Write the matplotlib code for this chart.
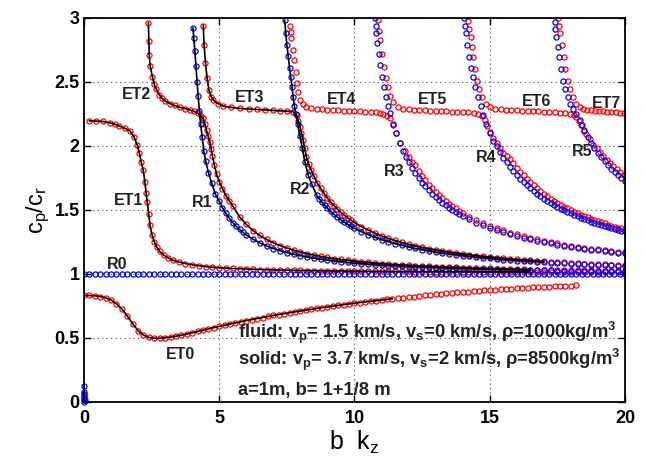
import numpy as np
import matplotlib
matplotlib.use('Agg')
import matplotlib.pyplot as plt

plt.rcParams['font.family'] = ['Liberation Sans', 'DejaVu Sans']
plt.rcParams['mathtext.fontset'] = 'custom'
plt.rcParams['mathtext.rm'] = 'Liberation Sans'
plt.rcParams['mathtext.bf'] = 'Liberation Sans:bold'
plt.rcParams['mathtext.it'] = 'Liberation Sans:italic'

# ---- dispersion curves, (b kz, cp/cr) pairs ----
# red = model 1, blue = model 2, black line = coupled model (over part of them)
et0 = [(0, 0.83), (0.2, 0.83), (0.4, 0.828), (0.6, 0.822), (0.8, 0.812), (1.0, 0.795), (1.2, 0.765),
       (1.4, 0.725), (1.6, 0.67), (1.8, 0.61), (2.0, 0.555), (2.2, 0.52), (2.4, 0.502), (2.6, 0.496),
       (2.8, 0.496), (3.0, 0.5), (3.2, 0.505), (3.4, 0.512), (3.6, 0.52), (3.8, 0.529), (4.0, 0.539),
       (4.2, 0.549), (4.4, 0.559), (4.6, 0.569), (4.8, 0.579), (5.0, 0.589), (5.2, 0.598), (5.4, 0.607),
       (5.6, 0.616), (5.8, 0.625), (6.0, 0.634), (6.2, 0.642), (6.4, 0.65), (6.6, 0.658), (6.8, 0.666),
       (7.0, 0.674), (7.2, 0.681), (7.4, 0.688), (7.6, 0.695), (7.8, 0.702), (8.0, 0.709), (8.2, 0.716),
       (8.4, 0.722), (8.6, 0.729), (8.8, 0.735), (9.0, 0.741), (9.2, 0.747), (9.4, 0.753), (9.6, 0.759),
       (9.8, 0.764), (10.0, 0.77), (10.2, 0.775), (10.4, 0.78), (10.6, 0.785), (10.8, 0.79), (11.0, 0.795),
       (11.2, 0.8), (11.4, 0.805), (11.6, 0.809), (11.8, 0.814), (12.0, 0.818), (12.2, 0.822),
       (12.4, 0.827), (12.6, 0.831), (12.8, 0.835), (13.0, 0.839), (13.2, 0.843), (13.4, 0.847),
       (13.6, 0.85), (13.8, 0.854), (14.0, 0.857), (14.2, 0.861), (14.4, 0.864), (14.6, 0.867),
       (14.8, 0.87), (15.0, 0.873), (15.2, 0.876), (15.4, 0.879), (15.6, 0.882), (15.8, 0.884),
       (16.0, 0.887), (16.2, 0.889), (16.4, 0.892), (16.6, 0.894), (16.8, 0.896), (17.0, 0.898),
       (17.2, 0.9), (17.4, 0.902), (17.6, 0.904), (17.8, 0.906), (18.0, 0.908), (18.2, 0.91)]

et1 = [(0.2, 2.195), (0.45, 2.193), (0.7, 2.19), (0.95, 2.18), (1.15, 2.168), (1.3, 2.155), (1.5, 2.138),
       (1.7, 2.117), (1.85, 2.07), (1.97, 2.005), (2.05, 1.94), (2.12, 1.87), (2.19, 1.81), (2.25, 1.72),
       (2.3, 1.63), (2.34, 1.56), (2.39, 1.47), (2.44, 1.38), (2.52, 1.3), (2.6, 1.25), (2.69, 1.21),
       (2.8, 1.175), (2.95, 1.145), (3.1, 1.125), (3.3, 1.105), (3.5, 1.092), (3.75, 1.08), (4.0, 1.07),
       (4.25, 1.063), (4.5, 1.056), (4.75, 1.051), (5.0, 1.047), (5.25, 1.044), (5.5, 1.041),
       (5.75, 1.039), (6.0, 1.037), (6.25, 1.035), (6.5, 1.033), (6.75, 1.032), (7.0, 1.03),
       (7.25, 1.029), (7.5, 1.028), (7.75, 1.027), (8.0, 1.026), (8.25, 1.025), (8.5, 1.024),
       (8.75, 1.023), (9.0, 1.023), (9.25, 1.022), (9.5, 1.022), (9.75, 1.021), (10.0, 1.021),
       (10.25, 1.02), (10.5, 1.02), (10.75, 1.019), (11.0, 1.019), (11.25, 1.019), (11.5, 1.018),
       (11.75, 1.018), (12.0, 1.018), (12.25, 1.017), (12.5, 1.017), (12.75, 1.017), (13.0, 1.017),
       (13.25, 1.016), (13.5, 1.016), (13.75, 1.016), (14.0, 1.016), (14.25, 1.016), (14.5, 1.015),
       (14.75, 1.015), (15.0, 1.015), (15.25, 1.015), (15.5, 1.015), (15.75, 1.014), (16.0, 1.014),
       (16.25, 1.014), (16.5, 1.014), (16.75, 1.014), (17.0, 1.014), (17.25, 1.013), (17.5, 1.013),
       (17.75, 1.013), (18.0, 1.013), (18.25, 1.013), (18.5, 1.013), (18.75, 1.013), (19.0, 1.012),
       (19.25, 1.012), (19.5, 1.012), (19.75, 1.012), (20.0, 1.012)]

# ET2 branch continuing into the red R1 branch
et2_r1 = [(2.38, 2.96), (2.4, 2.82), (2.41, 2.71), (2.45, 2.62), (2.53, 2.54), (2.6, 2.48), (2.68, 2.44),
          (2.78, 2.4), (2.87, 2.375), (3.0, 2.35), (3.18, 2.33), (3.35, 2.315), (3.55, 2.3),
          (3.75, 2.29), (3.92, 2.279), (4.08, 2.268), (4.22, 2.253), (4.33, 2.235), (4.41, 2.214),
          (4.47, 2.17), (4.53, 2.12), (4.59, 2.075), (4.65, 2.03), (4.7, 1.975), (4.75, 1.92),
          (4.82, 1.85), (4.9, 1.78), (5.0, 1.72), (5.12, 1.665), (5.25, 1.61), (5.37, 1.57), (5.5, 1.53),
          (5.75, 1.445), (6.0, 1.385), (6.25, 1.337), (6.5, 1.299), (6.75, 1.268), (7.0, 1.242),
          (7.25, 1.22), (7.5, 1.201), (7.75, 1.184), (8.0, 1.17), (8.25, 1.157), (8.5, 1.146),
          (8.75, 1.136), (9.0, 1.127), (9.25, 1.119), (9.5, 1.112), (9.75, 1.105), (10.0, 1.099),
          (10.25, 1.094), (10.5, 1.089), (10.75, 1.084), (11.0, 1.08), (11.25, 1.076), (11.5, 1.072),
          (11.75, 1.069), (12.0, 1.066), (12.25, 1.063), (12.5, 1.06), (12.75, 1.058), (13.0, 1.055),
          (13.25, 1.053), (13.5, 1.051), (13.75, 1.049), (14.0, 1.047), (14.25, 1.045), (14.5, 1.044),
          (14.75, 1.042), (15.0, 1.041), (15.25, 1.039), (15.5, 1.038), (15.75, 1.037), (16.0, 1.035),
          (16.25, 1.034), (16.5, 1.033), (16.75, 1.032), (17.0, 1.031), (17.25, 1.03), (17.5, 1.029),
          (17.75, 1.029), (18.0, 1.028), (18.25, 1.027), (18.5, 1.026), (18.75, 1.026), (19.0, 1.025),
          (19.25, 1.024), (19.5, 1.023), (19.75, 1.023), (20.0, 1.022)]

et3_r2 = [(4.41, 2.94), (4.44, 2.79), (4.49, 2.65), (4.55, 2.53), (4.62, 2.435), (4.7, 2.385),
          (4.78, 2.357), (4.95, 2.33), (5.15, 2.31), (5.45, 2.3), (5.76, 2.292), (6.1, 2.287),
          (6.4, 2.284), (6.7, 2.28), (7.0, 2.276), (7.25, 2.273), (7.5, 2.27), (7.73, 2.266),
          (7.86, 2.24), (7.93, 2.19), (7.98, 2.15), (8.04, 2.1), (8.1, 2.045), (8.16, 1.98),
          (8.22, 1.914), (8.3, 1.86), (8.4, 1.81), (8.5, 1.763), (8.62, 1.71), (8.75, 1.667),
          (8.87, 1.63), (9.0, 1.591), (9.12, 1.56), (9.25, 1.53), (9.37, 1.505), (9.5, 1.479),
          (9.62, 1.458), (9.75, 1.437), (9.87, 1.418), (10.0, 1.4), (10.25, 1.369), (10.5, 1.342),
          (10.75, 1.318), (11.0, 1.296), (11.25, 1.277), (11.5, 1.26), (11.75, 1.245), (12.0, 1.231),
          (12.25, 1.218), (12.5, 1.207), (12.75, 1.196), (13.0, 1.187), (13.25, 1.178), (13.5, 1.17),
          (13.75, 1.162), (14.0, 1.155), (14.25, 1.148), (14.5, 1.142), (14.75, 1.136), (15.0, 1.131),
          (15.25, 1.126), (15.5, 1.121), (15.75, 1.116), (16.0, 1.112), (16.25, 1.108), (16.5, 1.104),
          (16.75, 1.101), (17.0, 1.097), (17.25, 1.094), (17.5, 1.091), (17.75, 1.088), (18.0, 1.085),
          (18.25, 1.083), (18.5, 1.08), (18.75, 1.078), (19.0, 1.076), (19.25, 1.074), (19.5, 1.071),
          (19.75, 1.07), (20.0, 1.068)]

et4_r3 = [(7.61, 2.94), (7.64, 2.89), (7.67, 2.84), (7.72, 2.75), (7.77, 2.67), (7.82, 2.58),
          (7.86, 2.49), (7.91, 2.42), (7.98, 2.357), (8.08, 2.325), (8.22, 2.3), (8.4, 2.292),
          (8.6, 2.287), (8.8, 2.284), (9.0, 2.281), (9.2, 2.279), (9.4, 2.277), (9.6, 2.275),
          (9.8, 2.273), (10.0, 2.271), (10.2, 2.269), (10.4, 2.267), (10.6, 2.264), (10.8, 2.261),
          (10.95, 2.257), (11.06, 2.25), (11.2, 2.235), (11.3, 2.214), (11.42, 2.16), (11.55, 2.1),
          (11.7, 2.02), (11.85, 1.96), (12.0, 1.91), (12.12, 1.875), (12.25, 1.847), (12.37, 1.805),
          (12.5, 1.765), (12.62, 1.73), (12.75, 1.697), (12.87, 1.667), (13.0, 1.639), (13.12, 1.614),
          (13.25, 1.59), (13.37, 1.568), (13.5, 1.547), (13.62, 1.528), (13.75, 1.51), (13.87, 1.493),
          (14.0, 1.476), (14.25, 1.447), (14.5, 1.421), (14.75, 1.397), (15.0, 1.376), (15.25, 1.356),
          (15.5, 1.338), (15.75, 1.322), (16.0, 1.307), (16.25, 1.293), (16.5, 1.28), (16.75, 1.268),
          (17.0, 1.257), (17.25, 1.247), (17.5, 1.237), (17.75, 1.228), (18.0, 1.219), (18.25, 1.211),
          (18.5, 1.204), (18.75, 1.197), (19.0, 1.19), (19.25, 1.184), (19.5, 1.178), (19.75, 1.172),
          (20.0, 1.167)]

et5_r4 = [(10.87, 2.98), (10.91, 2.9), (10.96, 2.826), (11.02, 2.72), (11.08, 2.617), (11.16, 2.53),
          (11.24, 2.46), (11.33, 2.39), (11.43, 2.344), (11.6, 2.305), (11.8, 2.29), (12.0, 2.284),
          (12.2, 2.28), (12.4, 2.278), (12.6, 2.276), (12.8, 2.274), (13.0, 2.272), (13.2, 2.27),
          (13.4, 2.269), (13.6, 2.267), (13.8, 2.265), (14.0, 2.263), (14.2, 2.261), (14.4, 2.257),
          (14.57, 2.25), (14.7, 2.235), (14.81, 2.2), (14.9, 2.155), (15.0, 2.11), (15.12, 2.06),
          (15.25, 2.02), (15.37, 1.98), (15.5, 1.945), (15.62, 1.92), (15.75, 1.895), (15.87, 1.862),
          (16.0, 1.83), (16.12, 1.798), (16.25, 1.768), (16.37, 1.74), (16.5, 1.714), (16.62, 1.69),
          (16.75, 1.667), (16.87, 1.645), (17.0, 1.625), (17.12, 1.606), (17.25, 1.588), (17.37, 1.571),
          (17.5, 1.555), (17.62, 1.54), (17.75, 1.525), (17.87, 1.511), (18.0, 1.498), (18.12, 1.485),
          (18.25, 1.473), (18.37, 1.461), (18.5, 1.45), (18.62, 1.44), (18.75, 1.43), (18.87, 1.42),
          (19.0, 1.411), (19.12, 1.402), (19.25, 1.393), (19.37, 1.384), (19.5, 1.376), (19.62, 1.368),
          (19.75, 1.361), (19.87, 1.354), (20.0, 1.347)]

et6_r5 = [(14.2, 2.977), (14.25, 2.91), (14.29, 2.85), (14.34, 2.77), (14.38, 2.695), (14.46, 2.6),
          (14.53, 2.51), (14.62, 2.44), (14.72, 2.38), (14.85, 2.33), (15.0, 2.305), (15.2, 2.29),
          (15.4, 2.284), (15.6, 2.28), (15.8, 2.278), (16.0, 2.276), (16.2, 2.274), (16.4, 2.272),
          (16.6, 2.27), (16.8, 2.269), (17.0, 2.267), (17.2, 2.265), (17.4, 2.263), (17.6, 2.26),
          (17.8, 2.255), (17.95, 2.248), (18.1, 2.238), (18.2, 2.227), (18.3, 2.19), (18.38, 2.16),
          (18.48, 2.12), (18.57, 2.09), (18.7, 2.05), (18.82, 2.01), (18.95, 1.98), (19.07, 1.95),
          (19.2, 1.92), (19.32, 1.89), (19.45, 1.865), (19.57, 1.84), (19.7, 1.815), (19.82, 1.795),
          (19.95, 1.775), (20.0, 1.768)]

et7 = [(17.52, 2.995), (17.56, 2.94), (17.61, 2.88), (17.66, 2.79), (17.73, 2.695), (17.8, 2.6),
       (17.89, 2.51), (17.98, 2.44), (18.08, 2.38), (18.2, 2.33), (18.32, 2.3), (18.45, 2.288),
       (18.6, 2.282), (18.75, 2.278), (18.9, 2.275), (19.05, 2.272), (19.2, 2.27), (19.35, 2.267),
       (19.5, 2.264), (19.65, 2.261), (19.8, 2.258), (19.98, 2.255)]

r0_kz = [0.0, 0.2, 0.4, 0.6, 0.8, 1.0, 1.2, 1.4, 1.6, 1.8, 2.0, 2.2, 2.4, 2.6, 2.8, 3.0, 3.2, 3.4,
         3.6, 3.8, 4.0, 4.2, 4.4, 4.6, 4.8, 5.0, 5.2, 5.4, 5.6, 5.8, 6.0, 6.2, 6.4, 6.6, 6.8, 7.0,
         7.2, 7.4, 7.6, 7.8, 8.0, 8.2, 8.4, 8.6, 8.8, 9.0, 9.2, 9.4, 9.6, 9.8, 10.0, 10.2, 10.4,
         10.6, 10.8, 11.0, 11.2, 11.4, 11.6, 11.8, 12.0, 12.2, 12.4, 12.6, 12.8, 13.0, 13.2, 13.4,
         13.6, 13.8, 14.0, 14.2, 14.4, 14.6, 14.8, 15.0, 15.2, 15.4, 15.6, 15.8, 16.0, 16.2, 16.4,
         16.6, 16.8, 17.0, 17.2, 17.4, 17.6, 17.8, 18.0, 18.2, 18.4, 18.6, 18.8, 19.0, 19.2, 19.4,
         19.6, 19.8, 20.0]
r0_level = 1.0

r1 = [(4.03, 2.92), (4.06, 2.84), (4.1, 2.74), (4.14, 2.62), (4.18, 2.5), (4.22, 2.39), (4.27, 2.27),
      (4.31, 2.17), (4.37, 2.07), (4.43, 1.96), (4.5, 1.88), (4.6, 1.79), (4.72, 1.71), (4.86, 1.62),
      (5.0, 1.567), (5.12, 1.515), (5.25, 1.471), (5.37, 1.434), (5.5, 1.4), (5.62, 1.372),
      (5.75, 1.346), (5.87, 1.324), (6.0, 1.304), (6.25, 1.27), (6.5, 1.241), (6.75, 1.217),
      (7.0, 1.197), (7.25, 1.18), (7.5, 1.165), (7.75, 1.152), (8.0, 1.141), (8.25, 1.131),
      (8.5, 1.122), (8.75, 1.114), (9.0, 1.106), (9.25, 1.1), (9.5, 1.094), (9.75, 1.088), (10.0, 1.084),
      (10.25, 1.079), (10.5, 1.075), (10.75, 1.071), (11.0, 1.068), (11.25, 1.064), (11.5, 1.061),
      (11.75, 1.058), (12.0, 1.056), (12.25, 1.053), (12.5, 1.051), (12.75, 1.049), (13.0, 1.047),
      (13.25, 1.045), (13.5, 1.043), (13.75, 1.042), (14.0, 1.04), (14.25, 1.039), (14.5, 1.037),
      (14.75, 1.036), (15.0, 1.035), (15.25, 1.034), (15.5, 1.032), (15.75, 1.031), (16.0, 1.03),
      (16.25, 1.029), (16.5, 1.028), (16.75, 1.027), (17.0, 1.027), (17.25, 1.026), (17.5, 1.025),
      (17.75, 1.024), (18.0, 1.024), (18.25, 1.023), (18.5, 1.022), (18.75, 1.022), (19.0, 1.021),
      (19.25, 1.021), (19.5, 1.02), (19.75, 1.02), (20.0, 1.019)]

r2 = [(7.42, 2.98), (7.46, 2.88), (7.5, 2.79), (7.55, 2.7), (7.6, 2.61), (7.64, 2.54), (7.69, 2.46),
      (7.73, 2.38), (7.78, 2.31), (7.83, 2.25), (7.9, 2.17), (7.98, 2.08), (8.07, 1.98), (8.17, 1.87),
      (8.29, 1.77), (8.42, 1.7), (8.6, 1.614), (8.7, 1.585), (8.8, 1.559), (8.9, 1.535), (9.0, 1.512),
      (9.12, 1.487), (9.25, 1.463), (9.37, 1.442), (9.5, 1.421), (9.62, 1.403), (9.75, 1.386),
      (9.87, 1.37), (10.0, 1.355), (10.25, 1.329), (10.5, 1.306), (10.75, 1.285), (11.0, 1.266),
      (11.25, 1.25), (11.5, 1.235), (11.75, 1.222), (12.0, 1.209), (12.25, 1.198), (12.5, 1.188),
      (12.75, 1.179), (13.0, 1.17), (13.25, 1.162), (13.5, 1.155), (13.75, 1.148), (14.0, 1.141),
      (14.25, 1.135), (14.5, 1.13), (14.75, 1.125), (15.0, 1.12), (15.25, 1.115), (15.5, 1.111),
      (15.75, 1.107), (16.0, 1.103), (16.25, 1.1), (16.5, 1.096), (16.75, 1.093), (17.0, 1.09),
      (17.25, 1.087), (17.5, 1.084), (17.75, 1.081), (18.0, 1.079), (18.25, 1.077), (18.5, 1.074),
      (18.75, 1.072), (19.0, 1.07), (19.25, 1.068), (19.5, 1.066), (19.75, 1.064), (20.0, 1.062)]

r3 = [(10.75, 2.995), (10.78, 2.94), (10.81, 2.88), (10.85, 2.8), (10.9, 2.72), (10.96, 2.63),
      (11.03, 2.54), (11.1, 2.46), (11.18, 2.38), (11.25, 2.31), (11.33, 2.253), (11.43, 2.17),
      (11.55, 2.1), (11.67, 2.02), (11.8, 1.961), (11.9, 1.916), (12.0, 1.874), (12.12, 1.83),
      (12.25, 1.786), (12.37, 1.748), (12.5, 1.713), (12.62, 1.682), (12.75, 1.652), (12.87, 1.625),
      (13.0, 1.6), (13.12, 1.578), (13.25, 1.556), (13.37, 1.536), (13.5, 1.517), (13.62, 1.499),
      (13.75, 1.482), (13.87, 1.467), (14.0, 1.452), (14.25, 1.425), (14.5, 1.4), (14.75, 1.378),
      (15.0, 1.358), (15.25, 1.34), (15.5, 1.323), (15.75, 1.308), (16.0, 1.294), (16.25, 1.28),
      (16.5, 1.268), (16.75, 1.257), (17.0, 1.247), (17.25, 1.237), (17.5, 1.228), (17.75, 1.219),
      (18.0, 1.211), (18.25, 1.203), (18.5, 1.196), (18.75, 1.189), (19.0, 1.183), (19.25, 1.177),
      (19.5, 1.171), (19.75, 1.166), (20.0, 1.161)]

r4 = [(14.04, 3.0), (14.07, 2.94), (14.11, 2.88), (14.17, 2.79), (14.23, 2.695), (14.3, 2.61),
      (14.38, 2.54), (14.47, 2.46), (14.57, 2.38), (14.66, 2.31), (14.75, 2.24), (14.87, 2.17),
      (15.0, 2.097), (15.12, 2.04), (15.25, 1.997), (15.37, 1.95), (15.5, 1.908), (15.62, 1.87),
      (15.75, 1.833), (15.87, 1.8), (16.0, 1.769), (16.12, 1.741), (16.25, 1.714), (16.37, 1.69),
      (16.5, 1.667), (16.62, 1.646), (16.75, 1.625), (16.87, 1.606), (17.0, 1.587), (17.12, 1.57),
      (17.25, 1.553), (17.37, 1.538), (17.5, 1.523), (17.62, 1.509), (17.75, 1.496), (17.87, 1.483),
      (18.0, 1.471), (18.12, 1.459), (18.25, 1.448), (18.37, 1.437), (18.5, 1.427), (18.62, 1.417),
      (18.75, 1.408), (18.87, 1.399), (19.0, 1.39), (19.12, 1.382), (19.25, 1.374), (19.37, 1.366),
      (19.5, 1.359), (19.62, 1.351), (19.75, 1.344), (19.87, 1.337), (20.0, 1.331)]

r5 = [(17.4, 2.97), (17.43, 2.91), (17.46, 2.85), (17.51, 2.77), (17.56, 2.695), (17.63, 2.6),
      (17.71, 2.51), (17.8, 2.44), (17.89, 2.38), (17.98, 2.33), (18.08, 2.29), (18.2, 2.245),
      (18.32, 2.2), (18.4, 2.16), (18.5, 2.114), (18.63, 2.065), (18.75, 2.023), (18.87, 1.985),
      (19.0, 1.946), (19.12, 1.912), (19.25, 1.88), (19.37, 1.85), (19.5, 1.822), (19.62, 1.796),
      (19.75, 1.771), (19.87, 1.748), (20.0, 1.726)]

origin_blob = [(0, 0.0), (0, 0.015), (0, 0.03), (0, 0.045), (0, 0.06), (0, 0.075), (0.02, 0.01),
               (0, 0.123)]

red_modes = [et0, et1, et2_r1, et3_r2, et4_r3, et5_r4, et6_r5, et7]
blue_modes = [r1, r2, r3, r4, r5]
# coupled-model black lines: which branch, and the kz where the line stops
black_modes = [(et0, 11.4), (et1, 16.7), (et2_r1, 16.7), (r1, 16.7), (et3_r2, 17.2), (r2, 17.2)]

labels = [('ET0', 3.55, 0.37), ('ET1', 1.64, 1.575), ('ET2', 1.94, 2.4), ('ET3', 6.13, 2.38),
          ('ET4', 9.52, 2.36), ('ET5', 12.9, 2.36), ('ET6', 16.72, 2.345), ('ET7', 19.31, 2.33),
          ('R0', 1.21, 1.076), ('R1', 4.38, 1.56), ('R2', 8.0, 1.655), ('R3', 11.45, 1.8),
          ('R4', 14.85, 1.91), ('R5', 18.42, 1.953)]

fig = plt.figure(figsize=(6.46, 4.57), dpi=100)
ax = fig.add_axes([0.130, 0.121, 0.8375, 0.840])

mk = dict(linestyle='none', marker='o', markersize=3.7, markerfacecolor='none', markeredgewidth=0.9)
for mode in red_modes:
    kz, c = zip(*mode)
    ax.plot(kz, c, color='#ff0000', **mk)
ax.plot(r0_kz, [r0_level] * len(r0_kz), color='#0000ff', **mk)
for mode in blue_modes:
    kz, c = zip(*mode)
    ax.plot(kz, c, color='#0000ff', **mk)
kz, c = zip(*origin_blob)
ax.plot(kz, c, color='#0000ff', clip_on=False, **mk)
for mode, xend in black_modes:
    kz, c = np.array(mode).T
    keep = kz <= xend
    ax.plot(kz[keep], c[keep], color='black', linewidth=1.2)

for txt, x, y in labels:
    ax.text(x, y, txt, fontsize=11.5, fontweight='bold', ha='center', va='center', color='#222222')

ax.text(5.69, 0.537, r'fluid: v$_\mathbf{p}$= 1.5 km/s, v$_\mathbf{s}$=0 km/s, ρ=1000kg/m$^\mathbf{3}$',
        fontsize=13.2, fontweight='bold', va='center', color='#222222')
ax.text(5.69, 0.326, r'solid: v$_\mathbf{p}$= 3.7 km/s, v$_\mathbf{s}$=2 km/s, ρ=8500kg/m$^\mathbf{3}$',
        fontsize=13.2, fontweight='bold', va='center', color='#222222')
ax.text(5.69, 0.09, 'a=1m, b= 1+1/8 m', fontsize=13.2, fontweight='bold', va='center', color='#222222')

ax.set_xlim(0, 20)
ax.set_ylim(0, 3)
ax.set_xticks([0, 5, 10, 15, 20])
ax.set_xticklabels(['0', '5', '10', '15', '20'])
ax.set_yticks([0, 0.5, 1, 1.5, 2, 2.5, 3])
ax.set_yticklabels(['0', '0.5', '1', '1.5', '2', '2.5', '3'])
for lab in ax.get_xticklabels() + ax.get_yticklabels():
    lab.set_fontweight('bold')
ax.tick_params(direction='in', length=5, width=1, top=True, right=True, labelsize=13)
ax.tick_params(axis='x', pad=6)
ax.tick_params(axis='y', pad=3)
ax.grid(True, linestyle=(0, (1, 3)), color='0.3', linewidth=0.8)
for s in ax.spines.values():
    s.set_linewidth(1.3)

ax.set_xlabel(r'b  k$_\mathrm{z}$', fontsize=18, labelpad=1)
ax.set_ylabel(r'c$_\mathrm{p}$/c$_\mathrm{r}$', fontsize=17, labelpad=2)

fig.savefig('out.png', dpi=100)
